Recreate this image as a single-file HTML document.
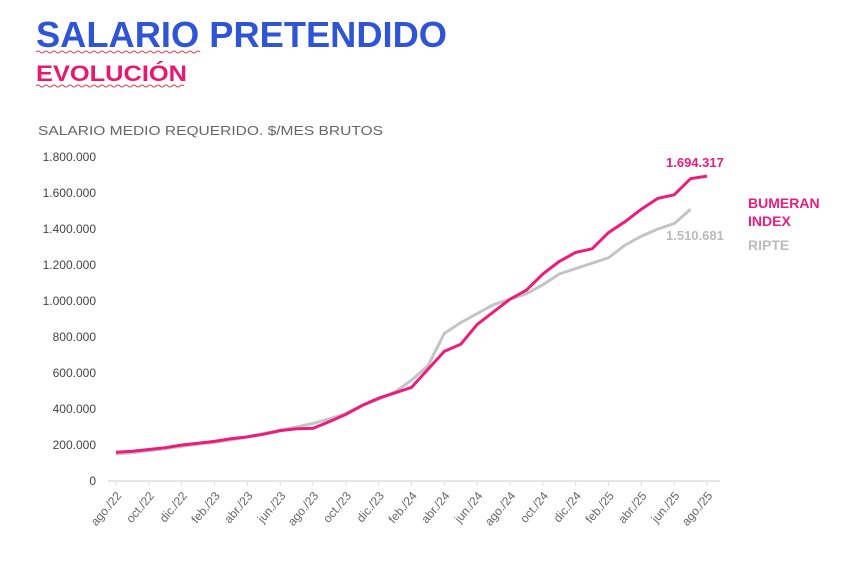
<!DOCTYPE html>
<html><head><meta charset="utf-8"><style>
body{margin:0;background:#fff;width:854px;height:560px;overflow:hidden;font-family:"Liberation Sans",sans-serif}
</style></head><body>
<svg width="854" height="560" xmlns="http://www.w3.org/2000/svg" font-family="Liberation Sans, sans-serif">
<text x="36" y="47" font-size="36" font-weight="bold" fill="#2f55d4" textLength="411" lengthAdjust="spacingAndGlyphs">SALARIO PRETENDIDO</text>
<text x="36" y="81" font-size="22" font-weight="bold" fill="#e8176f" textLength="151" lengthAdjust="spacingAndGlyphs">EVOLUCIÓN</text>
<path d="M36 52 q2 -2 4 0 t4 0 t4 0 t4 0 t4 0 t4 0 t4 0 t4 0 t4 0 t4 0 t4 0 t4 0 t4 0 t4 0 t4 0 t4 0 t4 0 t4 0 t4 0 t4 0 t4 0 t4 0 t4 0 t4 0 t4 0 t4 0 t4 0 t4 0 t4 0 t4 0 t4 0 t4 0 t4 0 t4 0 t4 0 t4 0 t4 0 t4 0 t4 0 t4 0 t4 0" stroke="#e04050" fill="none" stroke-width="1"/>
<path d="M36 86 q2 -2 4 0 t4 0 t4 0 t4 0 t4 0 t4 0 t4 0 t4 0 t4 0 t4 0 t4 0 t4 0 t4 0 t4 0 t4 0 t4 0 t4 0 t4 0 t4 0 t4 0 t4 0 t4 0 t4 0 t4 0 t4 0 t4 0 t4 0 t4 0 t4 0 t4 0 t4 0 t4 0 t4 0 t4 0 t4 0 t4 0 t4 0" stroke="#e04050" fill="none" stroke-width="1"/>
<text x="38" y="135" font-size="13" fill="#666" textLength="345" lengthAdjust="spacingAndGlyphs">SALARIO MEDIO REQUERIDO. $/MES BRUTOS</text>
<g font-size="12" fill="#444" text-anchor="end" id="yl"></g>
<line x1="108" y1="481" x2="720" y2="481" stroke="#ddd" stroke-width="1.5"/>
<g id="xt" font-size="12" fill="#666"></g>
<polyline id="gray" fill="none" stroke="#c4c4c4" stroke-width="3"/>
<polyline id="pink" fill="none" stroke="#ec1c7e" stroke-width="3"/>
<text x="666" y="167" font-size="13" font-weight="bold" fill="#ec1c7e">1.694.317</text>
<text x="666" y="240" font-size="13" font-weight="bold" fill="#bbb">1.510.681</text>
<text x="748" y="208" font-size="14" font-weight="bold" fill="#ec1c7e">BUMERAN</text>
<text x="748" y="226" font-size="14" font-weight="bold" fill="#ec1c7e">INDEX</text>
<text x="748" y="250" font-size="14" font-weight="bold" fill="#bbb">RIPTE</text>
</svg>
<script>
var ns="http://www.w3.org/2000/svg";
function X(i){return 116+i*591/36}function Y(v){return 481-v*0.18}
var yl=document.getElementById('yl');
for(var k=0;k<=9;k++){var t=document.createElementNS(ns,'text');t.setAttribute('x',96);t.setAttribute('y',Y(k*200)+4);
var v=k*200000;t.textContent=k==0?'0':v.toString().replace(/\B(?=(\d{3})+(?!\d))/g,'.');yl.appendChild(t);}
var m=['ago./22','oct./22','dic./22','feb./23','abr./23','jun./23','ago./23','oct./23','dic./23','feb./24','abr./24','jun./24','ago./24','oct./24','dic./24','feb./25','abr./25','jun./25','ago./25'];
var xt=document.getElementById('xt');
m.forEach(function(s,j){var x=X(j*2);var l=document.createElementNS(ns,'line');l.setAttribute('x1',x);l.setAttribute('x2',x);l.setAttribute('y1',481);l.setAttribute('y2',486);l.setAttribute('stroke','#ddd');xt.appendChild(l);
var t=document.createElementNS(ns,'text');t.setAttribute('text-anchor','end');t.setAttribute('transform','translate('+(x+6)+',496) rotate(-50)');t.textContent=s;xt.appendChild(t);});
var p=[160,165,175,185,200,210,220,235,245,260,280,290,292,330,370,420,460,490,520,620,720,760,870,940,1010,1060,1150,1220,1270,1290,1380,1440,1510,1570,1590,1680,1694];
var g=[150,158,168,180,192,205,215,228,245,265,282,300,320,345,375,420,455,495,560,640,820,880,930,980,1010,1040,1090,1150,1180,1210,1240,1310,1360,1400,1430,1510];
function pts(a){return a.map(function(v,i){return X(i).toFixed(1)+','+Y(v).toFixed(1)}).join(' ')}
document.getElementById('pink').setAttribute('points',pts(p));
document.getElementById('gray').setAttribute('points',pts(g));
</script>
</body></html>
